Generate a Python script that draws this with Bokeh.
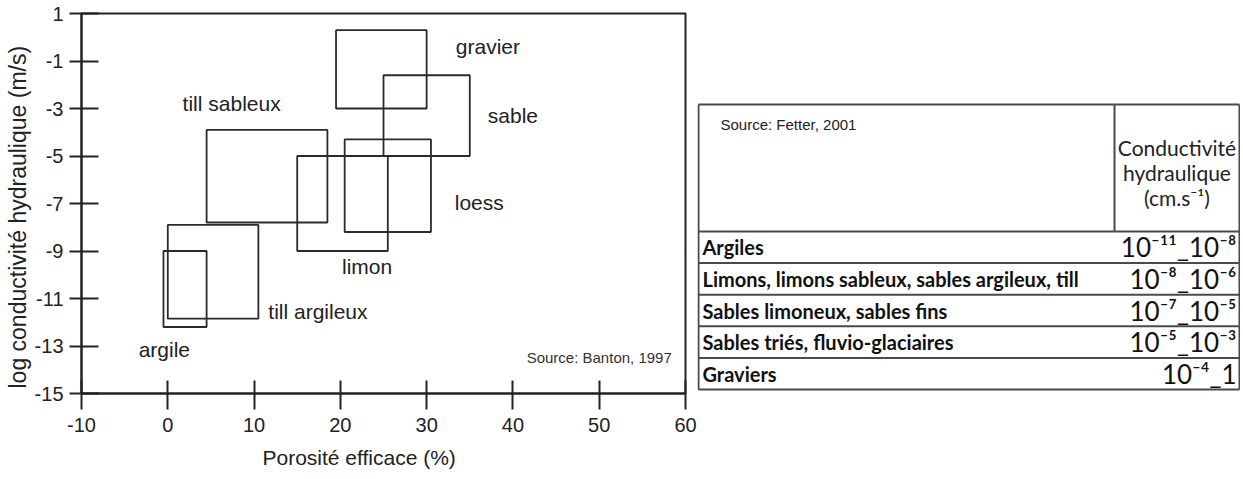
from bokeh.plotting import figure
from bokeh.models import Range1d, FixedTicker, Title
from bokeh.layouts import row
from bokeh.embed import file_html
from bokeh.resources import INLINE
from bokeh.core.properties import value

# ---------------- data: chart (Banton, 1997) ----------------
materials = ["gravier", "sable", "till sableux", "limon", "loess", "till argileux", "argile"]
por_min = [19.5, 25.0, 4.5, 15.0, 20.5, 0.0, -0.5]
por_max = [30.0, 35.0, 18.5, 25.5, 30.5, 10.5, 4.5]
logk_min = [-3.0, -5.0, -7.8, -9.0, -8.2, -11.85, -12.2]
logk_max = [0.3, -1.6, -3.9, -5.0, -4.3, -7.9, -9.0]
# label anchors (data coordinates)
label_x = [37.1, 40.0, 7.4, 23.1, 36.1, 17.4, -0.4]
label_y = [-0.4, -3.3, -2.8, -9.65, -6.95, -11.55, -13.15]

x_ticks = [-10, 0, 10, 20, 30, 40, 50, 60]
y_ticks = [1, -1, -3, -5, -7, -9, -11, -13, -15]

# ---------------- data: table (Fetter, 2001) ----------------
table_types = ["Argiles",
               "Limons, limons sableux, sables argileux, till",
               "Sables limoneux,  sables fins",
               "Sables triés, fluvio-glaciaires",
               "Graviers"]
k_low_exp = [-11, -8, -7, -5, -4]
k_high_exp = [-8, -6, -5, -3, 0]
header_lines = ["Conductivité", "hydraulique", "(cm.s\u207b\u00b9)"]

SUP = str.maketrans("-0123456789", "\u207b\u2070\u00b9\u00b2\u00b3\u2074\u2075\u2076\u2077\u2078\u2079")


def pow10(e):
    return "1" if e == 0 else "10" + str(e).translate(SUP)


k_text = [pow10(lo) + "_" + pow10(hi) for lo, hi in zip(k_low_exp, k_high_exp)]

FONT = value("Liberation Sans")
INK = "#222222"
H = 478
BORDER_TOP, BORDER_BOTTOM = 13, 85
LW = 697

# ---------------- left chart ----------------
p = figure(width=LW, height=H, x_range=Range1d(-10, 60), y_range=Range1d(-15, 1),
           output_backend="svg", toolbar_location=None,
           min_border_left=81, min_border_top=BORDER_TOP, min_border_right=12,
           min_border_bottom=BORDER_BOTTOM)
p.grid.visible = False
p.background_fill_color = "white"
p.border_fill_color = "white"
p.outline_line_color = INK
p.outline_line_width = 2

p.xaxis.ticker = FixedTicker(ticks=x_ticks)
p.yaxis.ticker = FixedTicker(ticks=y_ticks)
p.xaxis.major_label_overrides = {v: str(v) for v in x_ticks}
p.yaxis.major_label_overrides = {v: str(v) for v in y_ticks}
for ax in (p.xaxis, p.yaxis):
    ax.axis_line_color = INK
    ax.axis_line_width = 2
    ax.major_tick_line_color = INK
    ax.major_tick_line_width = 2
    ax.minor_tick_line_color = None
    ax.major_label_text_font = "Liberation Sans"
    ax.major_label_text_font_size = "20px"
    ax.major_label_text_color = INK
p.xaxis.major_tick_in = 13
p.xaxis.major_tick_out = 16
p.xaxis.major_label_standoff = 8
p.yaxis.major_tick_in = 17
p.yaxis.major_tick_out = 12
p.yaxis.major_label_standoff = 6

p.add_layout(Title(text="log conductivité hydraulique (m/s)", align="left", offset=5, standoff=2,
                   text_font="Liberation Sans", text_font_size="23px",
                   text_font_style="normal", text_color=INK), "left")
p.add_layout(Title(text="Porosité efficace (%)", align="left", offset=181, standoff=18,
                   text_font="Liberation Sans", text_font_size="21px",
                   text_font_style="normal", text_color=INK), "below")

p.quad(left=por_min, right=por_max, bottom=logk_min, top=logk_max,
       fill_color=None, line_color="#2a2a2a", line_width=1.8)

p.text(x=label_x, y=label_y, text=materials, text_font=FONT, text_font_size="21px",
       text_align="center", text_baseline="middle", text_color=INK)

p.text(x=[50.0], y=[-13.5], text=["Source: Banton, 1997"], text_font=FONT,
       text_font_size="15px", text_align="center", text_baseline="middle",
       text_color="#333333")

# ---------------- right table (drawn in picture-pixel coordinates) ----------------
TW = 543
t = figure(width=TW, height=H, x_range=Range1d(LW, LW + TW),
           y_range=Range1d(H - BORDER_BOTTOM, BORDER_TOP),
           output_backend="svg", toolbar_location=None,
           x_axis_location=None, y_axis_location=None,
           min_border_left=0, min_border_right=0,
           min_border_top=BORDER_TOP, min_border_bottom=BORDER_BOTTOM)
t.grid.visible = False
t.outline_line_color = None
t.background_fill_color = "white"
t.border_fill_color = "white"

left, right, divider = 698, 1239, 1114
top, header_bottom, bottom = 104, 231, 389
n = len(table_types)
row_h = (bottom - header_bottom) / n
row_lines = [header_bottom + i * row_h for i in range(n + 1)]
row_mid = [header_bottom + (i + 0.5) * row_h for i in range(n)]

LINE = "#4a4a4a"
t.segment(x0=[left] * len(row_lines), x1=[right] * len(row_lines), y0=row_lines, y1=row_lines,
          line_color=LINE, line_width=2)
t.segment(x0=[left, left, right, divider], x1=[right, left, right, divider],
          y0=[top, top, top, top], y1=[top, bottom, bottom, header_bottom],
          line_color=LINE, line_width=2)

t.text(x=[left + 22], y=[top + 20], text=["Source: Fetter, 2001"], text_font=FONT,
       text_font_size="15px", text_align="left", text_baseline="middle", text_color="#222222")
t.text(x=[(divider + right) / 2] * 3, y=[top + 43 + 25 * i for i in range(3)], text=header_lines,
       text_font=value("Lato"), text_font_size="21px", text_align="center",
       text_baseline="middle", text_color="#222222")
t.text(x=[left + 4] * n, y=row_mid, text=table_types, text_font=value("Lato"),
       text_font_size="20px", text_font_style="bold", text_align="left",
       text_baseline="middle", text_color="#111111")
t.text(x=[right - 3] * n, y=row_mid, text=k_text, text_font=value("Lato"),
       text_font_size="26px", text_align="right", text_baseline="middle", text_color="#111111")

layout = row(p, t)
open("out.html", "w").write(file_html(layout, INLINE))
